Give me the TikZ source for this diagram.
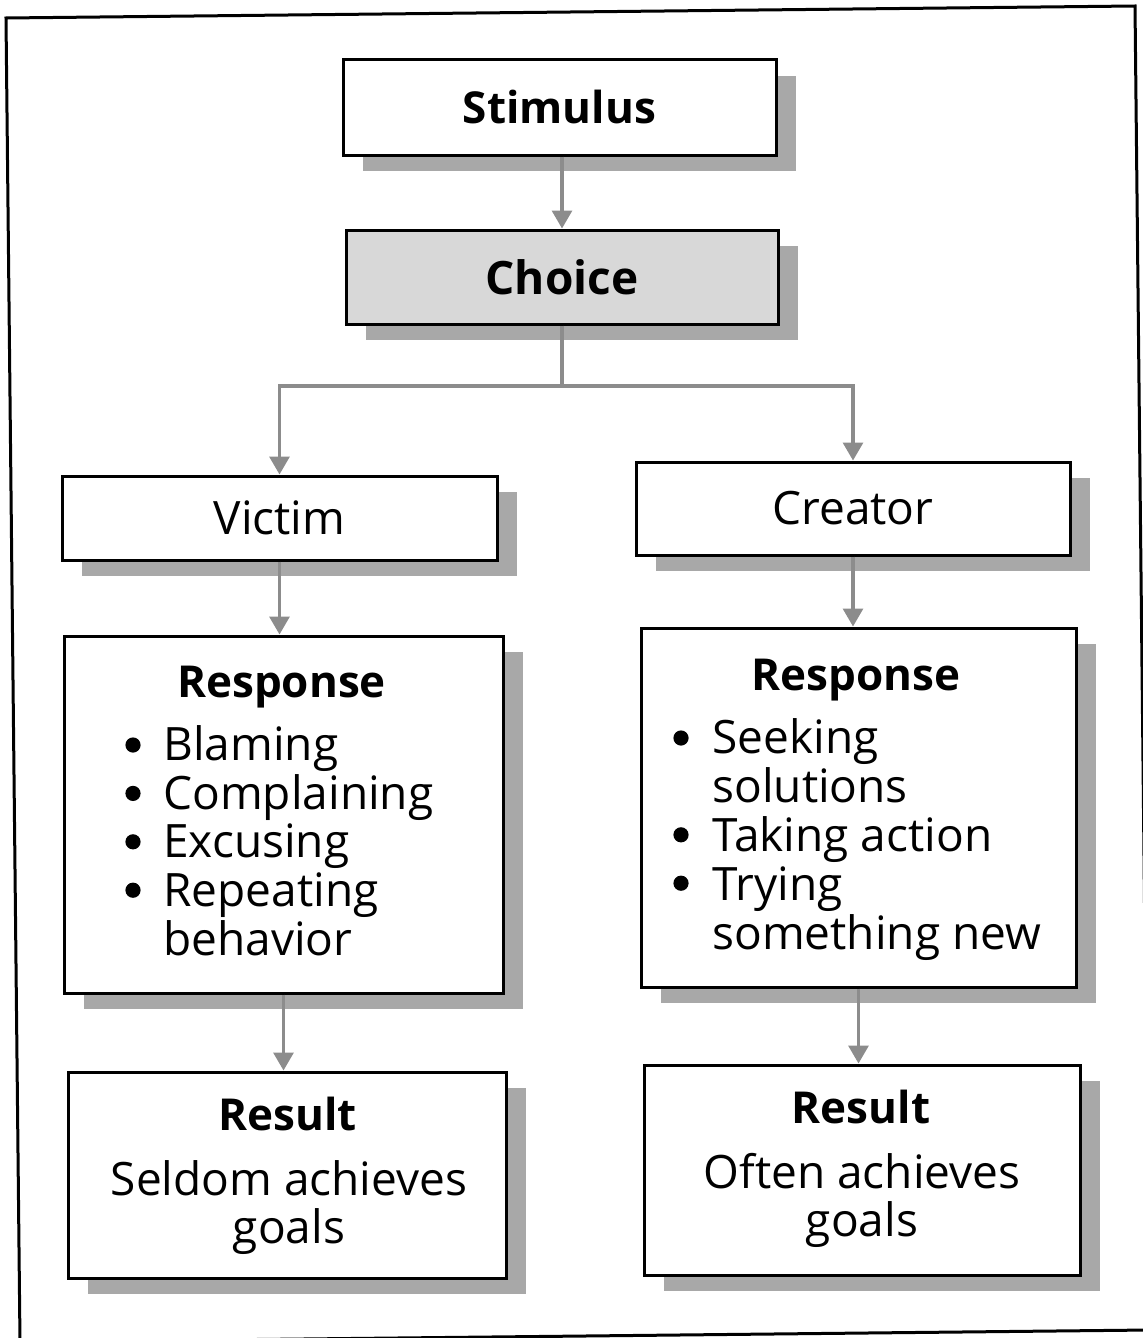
\documentclass[tikz,border=0pt]{standalone}
\usepackage{fontspec}
\setmainfont{Open Sans}
\usetikzlibrary{arrows.meta,shadows,calc}
\definecolor{conngray}{HTML}{8C8C8C}
\definecolor{shadowgray}{HTML}{A8A8A8}
\definecolor{choicefill}{HTML}{D8D8D8}
\begin{document}
\begin{tikzpicture}[x=0.5pt,y=-0.5pt,
  box/.style={draw=black, line width=1.5pt, fill=white, inner sep=0pt,
    drop shadow={shadow xshift=10pt, shadow yshift=-8pt, fill=shadowgray, opacity=1},
    font=\fontsize{23}{24}\selectfont},
  conn/.style={draw=conngray, line width=1.6pt, -{Triangle[width=10pt,length=9pt,fill=conngray]}},
  txt/.style={inner sep=0pt, font=\fontsize{23}{24.2}\selectfont},
  hd/.style={inner sep=0pt, font=\fontsize{22}{24}\selectfont\bfseries},
  bulletdot/.style={fill=black},
  frame/.style={draw=black, line width=1.5pt}]
\useasboundingbox (0,0) rectangle (1143,1338);
\clip (0,0) rectangle (1143,1338);
% outer frame (slightly rotated scan)
\draw[frame] (6,18) -- (1135,6) -- (1149,1330) -- (20,1342) -- cycle;

% boxes
\node[box, minimum width=216.5pt, minimum height=47.5pt, font=\fontsize{22}{24}\selectfont] (stim) at (559.5,107.5) {\bfseries Stimulus};
\node[box, fill=choicefill, minimum width=216pt, minimum height=47pt, font=\fontsize{23}{24}\selectfont] (choice) at (562,277) {\bfseries Choice};
\node[box, minimum width=217.5pt, minimum height=42pt] (victim) at (279.5,518) {Victim};
\node[box, minimum width=217pt, minimum height=46.5pt] (creator) at (853,508.5) {Creator};
\node[box, minimum width=219.5pt, minimum height=178.5pt] (respL) at (283.5,814.5) {};
\node[box, minimum width=217.5pt, minimum height=179.5pt] (respR) at (858.5,807.5) {};
\node[box, minimum width=219pt, minimum height=103pt] (resL) at (287,1175) {};
\node[box, minimum width=218pt, minimum height=105pt] (resR) at (862,1170) {};

% texts inside response/result boxes
\node[hd, anchor=base] (respLt) at (281.5,697) {Response};
\node[txt, anchor=base west] (respLb) at (163,760) {\begin{tabular}[t]{@{}l@{}}
Blaming\\
Complaining\\
Excusing\\
Repeating\\
behavior
\end{tabular}};
\foreach \yy in {745,793.4,841.8,890.2}
  \fill[bulletdot] (133,\yy) circle[radius=3.8pt];
\node[hd, anchor=base] (respRt) at (856,690) {Response};
\node[txt, anchor=base west] (respRb) at (712,753) {\begin{tabular}[t]{@{}l@{}}
Seeking\\
solutions\\
Taking action\\
Trying\\
something new
\end{tabular}};
\foreach \yy in {738,834.8,883.2}
  \fill[bulletdot] (681,\yy) circle[radius=3.8pt];
\node[hd, anchor=base] (resLt) at (287.5,1130) {Result};
\node[txt, anchor=base, font=\fontsize{23}{22.5}\selectfont] (resLb) at (289,1195) {\begin{tabular}[t]{@{}c@{}}Seldom achieves\\ goals\end{tabular}};
\node[hd, anchor=base] (resRt) at (861,1123) {Result};
\node[txt, anchor=base, font=\fontsize{23}{22.5}\selectfont] (resRb) at (862,1188) {\begin{tabular}[t]{@{}c@{}}Often achieves\\ goals\end{tabular}};

% connectors
\coordinate (br) at (565,386);
\draw[conn] (choice.north |- stim.south) -- (choice.north);
\draw[conn] (choice.south) -- (choice.south |- br) -| (victim.north);
\draw[conn] (choice.south |- br) -| (creator.north);
\draw[conn] (victim.south) -- (victim.south |- respL.north);
\draw[conn] (creator.south) -- (creator.south |- respR.north);
\draw[conn] (respL.south) -- (respL.south |- resL.north);
\draw[conn] (respR.south) -- (respR.south |- resR.north);
\end{tikzpicture}
\end{document}
